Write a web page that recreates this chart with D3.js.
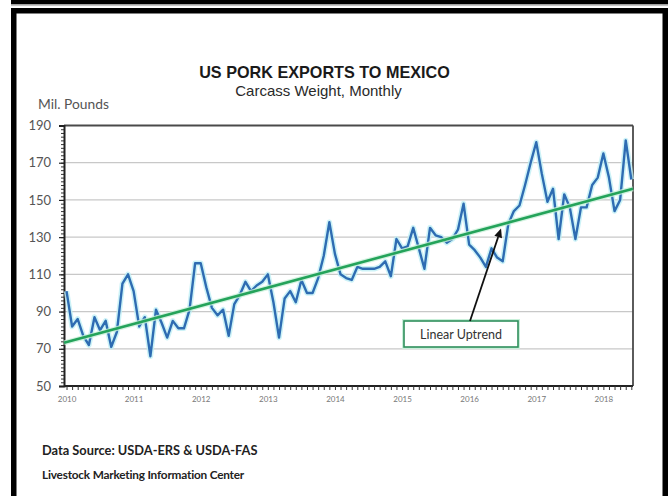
<!DOCTYPE html>
<html>
<head>
<meta charset="utf-8">
<script src="https://cdn.jsdelivr.net/npm/d3@7/dist/d3.min.js"></script>
<style>
  html, body { margin: 0; padding: 0; background: #fff; }
  svg { display: block; }
</style>
</head>
<body>
<svg id="chart" width="668" height="496"></svg>
<script>
// Monthly US pork exports to Mexico, carcass weight (million pounds), Jan 2010 - Jun 2018
const years = [2010, 2011, 2012, 2013, 2014, 2015, 2016, 2017, 2018];
const v2010 = [101, 82, 86, 77, 72, 87, 80, 85, 71, 79, 105, 110];
const v2011 = [101, 82, 87, 66, 91, 84, 76, 85, 81, 81, 91, 116];
const v2012 = [116, 103, 92, 88, 91, 77, 94, 99, 106, 101, 104, 106];
const v2013 = [110, 95, 76, 97, 101, 95, 107, 100, 100, 108, 120, 138];
const v2014 = [121, 110, 108, 107, 114, 113, 113, 113, 114, 117, 109, 129];
const v2015 = [124, 125, 135, 124, 113, 135, 131, 130, 127, 129, 134, 148];
const v2016 = [126, 123, 119, 114, 124, 119, 117, 137, 144, 147, 158, 170];
const v2017 = [181, 164, 149, 156, 129, 153, 146, 129, 146, 146, 158, 162];
const v2018 = [175, 162, 144, 150, 182, 161];
const exportsMonthly = [].concat(v2010, v2011, v2012, v2013, v2014, v2015, v2016, v2017, v2018);

// Linear trend: value at the left and right ends of the time axis
const trendEnds = [73.2, 156.0];

const yTicks = [50, 70, 90, 110, 130, 150, 170, 190];
const yTickLabels = ["50", "70", "90", "110", "130", "150", "170", "190"];

const titleText = "US PORK EXPORTS TO MEXICO";
const subtitleText = "Carcass Weight, Monthly";
const unitText = "Mil. Pounds";
const annotationText = "Linear Uptrend";
const sourceText = "Data Source:  USDA-ERS & USDA-FAS";
const centerText = "Livestock Marketing Information Center";

const svg = d3.select("#chart");

// ---- outer frame ----
svg.append("rect").attr("x", 11).attr("y", 0).attr("width", 657).attr("height", 4.5).attr("fill", "#000");
svg.append("rect").attr("x", 11).attr("y", 4.5).attr("width", 657).attr("height", 1.6).attr("fill", "#c4c4c4");
svg.append("rect").attr("x", 11).attr("y", 8).attr("width", 657).attr("height", 5.5).attr("fill", "#000");
svg.append("rect").attr("x", 11).attr("y", 8).attr("width", 5.5).attr("height", 488).attr("fill", "#000");
svg.append("rect").attr("x", 662.5).attr("y", 8).attr("width", 5.5).attr("height", 488).attr("fill", "#000");

// ---- scales ----
const plot = { left: 64, right: 633, top: 125.5, bottom: 386 };
const monthIdx = exportsMonthly.map((d, i) => i);
const x = d3.scaleLinear().domain([-0.45, 101.3]).range([plot.left, plot.right]);
const y = d3.scaleLinear().domain([50, 190]).range([plot.bottom, plot.top]);

// ---- titles ----
svg.append("text").attr("x", 324.5).attr("y", 78)
  .attr("text-anchor", "middle")
  .attr("font-family", "Liberation Sans, Arial, sans-serif")
  .attr("font-weight", "bold").attr("font-size", 16.2).attr("fill", "#1a1a1a")
  .text(titleText);
svg.append("text").attr("x", 318.5).attr("y", 96)
  .attr("text-anchor", "middle")
  .attr("font-family", "Liberation Sans, Arial, sans-serif")
  .attr("font-size", 15).attr("fill", "#2a2a2a")
  .text(subtitleText);
svg.append("text").attr("x", 38).attr("y", 109)
  .attr("font-family", "Lato, Open Sans, sans-serif")
  .attr("font-size", 13.8).attr("fill", "#555")
  .text(unitText);

// ---- gridlines ----
svg.append("g").selectAll("line")
  .data(yTicks.filter(t => t > 50 && t < 190))
  .join("line")
  .attr("x1", plot.left).attr("x2", plot.right)
  .attr("y1", d => y(d)).attr("y2", d => y(d))
  .attr("stroke", "#c8c8c8").attr("stroke-width", 1.2);

// plot frame (top and right)
svg.append("line").attr("x1", plot.left).attr("x2", plot.right)
  .attr("y1", plot.top).attr("y2", plot.top)
  .attr("stroke", "#4a4a4a").attr("stroke-width", 1.8);
svg.append("line").attr("x1", plot.right).attr("x2", plot.right)
  .attr("y1", plot.top).attr("y2", plot.bottom)
  .attr("stroke", "#4a4a4a").attr("stroke-width", 1.8);

// ---- y axis ----
const minorY = d3.range(50, 191, 2);
const yMinor = svg.append("g").attr("transform", `translate(${plot.left},0)`)
  .call(d3.axisLeft(y).tickValues(minorY).tickSize(3).tickFormat(""));
yMinor.select(".domain").remove();
yMinor.selectAll("line").attr("stroke", "#333").attr("stroke-width", 1);

const yAxis = svg.append("g").attr("transform", `translate(${plot.left},0)`)
  .call(d3.axisLeft(y).tickValues(yTicks).tickSize(5).tickPadding(8)
    .tickFormat((d, i) => yTickLabels[i]));
yAxis.select(".domain").attr("stroke", "#222").attr("stroke-width", 2);
yAxis.selectAll(".tick line").attr("stroke", "#222").attr("stroke-width", 1.2);
yAxis.selectAll(".tick text")
  .attr("font-family", "Lato, Open Sans, sans-serif")
  .attr("font-size", 13).attr("fill", "#555");

// ---- x axis ----
const xAxis = svg.append("g").attr("transform", `translate(0,${plot.bottom})`)
  .call(d3.axisBottom(x).tickValues(monthIdx).tickSize(4).tickFormat(""));
xAxis.select(".domain").attr("stroke", "#222").attr("stroke-width", 2)
  .attr("d", `M${plot.left},0H${plot.right}`);
xAxis.selectAll(".tick line").attr("stroke", "#333").attr("stroke-width", 1);

const yearAxis = svg.append("g").attr("transform", `translate(0,${plot.bottom})`)
  .call(d3.axisBottom(x).tickValues(years.map((yr, i) => i * 12)).tickSize(0).tickPadding(10)
    .tickFormat((d, i) => String(years[i])));
yearAxis.select(".domain").remove();
yearAxis.selectAll(".tick text")
  .attr("font-family", "Lato, Open Sans, sans-serif")
  .attr("font-size", 8).attr("fill", "#777");

// ---- series line ----
const line = d3.line().x((d, i) => x(i)).y(d => y(d));
svg.append("path").datum(exportsMonthly)
  .attr("d", line).attr("fill", "none")
  .attr("stroke", "#bfeff5").attr("stroke-width", 5.5)
  .attr("stroke-linejoin", "round").attr("opacity", 0.8);
svg.append("path").datum(exportsMonthly)
  .attr("d", line).attr("fill", "none")
  .attr("stroke", "#2e6cb2").attr("stroke-width", 2.4)
  .attr("stroke-linejoin", "round");

// ---- trend line ----
const xd = x.domain();
const trendPts = [[xd[0], trendEnds[0]], [xd[1], trendEnds[1]]];
const trendAt = m => trendEnds[0] + (trendEnds[1] - trendEnds[0]) * (m - xd[0]) / (xd[1] - xd[0]);
const tline = d3.line().x(d => x(d[0])).y(d => y(d[1]));
svg.append("path").datum(trendPts).attr("d", tline)
  .attr("stroke", "#c9f0da").attr("stroke-width", 5).attr("fill", "none").attr("opacity", 0.8);
svg.append("path").datum(trendPts).attr("d", tline)
  .attr("stroke", "#24a35a").attr("stroke-width", 2.6).attr("fill", "none");

// ---- annotation ----
const box = { x: 404, y: 321, w: 114, h: 26 };
svg.append("rect").attr("x", box.x).attr("y", box.y).attr("width", box.w).attr("height", box.h)
  .attr("fill", "#fff").attr("stroke", "#c9f0da").attr("stroke-width", 4);
svg.append("rect").attr("x", box.x).attr("y", box.y).attr("width", box.w).attr("height", box.h)
  .attr("fill", "#fff").attr("stroke", "#2f8f5c").attr("stroke-width", 1.6);
svg.append("text").attr("x", box.x + box.w / 2).attr("y", box.y + 17.5)
  .attr("text-anchor", "middle")
  .attr("font-family", "Lato, Open Sans, sans-serif")
  .attr("font-size", 12.5).attr("fill", "#333")
  .text(annotationText);

const tipM = 77.7;
const tip = [x(tipM), y(trendAt(tipM)) + 4];
const tail = [box.x + 66, box.y];
const ang = Math.atan2(tip[1] - tail[1], tip[0] - tail[0]);
const headLen = 9, headW = 4;
const base = [tip[0] - headLen * Math.cos(ang), tip[1] - headLen * Math.sin(ang)];
svg.append("line").attr("x1", tail[0]).attr("y1", tail[1]).attr("x2", base[0]).attr("y2", base[1])
  .attr("stroke", "#111").attr("stroke-width", 1.8);
svg.append("path")
  .attr("d", d3.line()([
    tip,
    [base[0] + headW * Math.sin(ang), base[1] - headW * Math.cos(ang)],
    [base[0] - headW * Math.sin(ang), base[1] + headW * Math.cos(ang)]
  ]) + "Z")
  .attr("fill", "#111");

// ---- footer ----
svg.append("text").attr("x", 42).attr("y", 455)
  .attr("font-family", "Lato, Open Sans, sans-serif")
  .attr("font-weight", "bold").attr("font-size", 12.8).attr("fill", "#222")
  .text(sourceText);
svg.append("text").attr("x", 42).attr("y", 479)
  .attr("font-family", "Lato, Open Sans, sans-serif")
  .attr("font-weight", "bold").attr("font-size", 11.8).attr("fill", "#222")
  .attr("letter-spacing", -0.2)
  .text(centerText);
</script>
</body>
</html>
